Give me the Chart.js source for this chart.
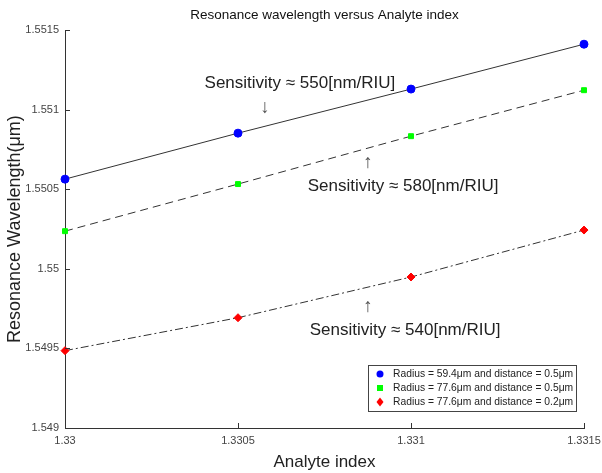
<!DOCTYPE html>
<html>
<head>
<meta charset="utf-8">
<script src="https://cdn.jsdelivr.net/npm/chart.js@4"></script>
<style>
  html, body { margin: 0; padding: 0; background: #fff; }
  #wrap { width: 602px; height: 473px; }
</style>
</head>
<body>
<div id="wrap"><canvas id="resChart" width="602" height="473"></canvas></div>
<script>
// analyte refractive index (x) and resonance wavelength in um (y)
const analyteIndex = [1.33, 1.3305, 1.331, 1.3315];
const wlR594d05 = [1.550564, 1.550853, 1.55113, 1.551412];
const wlR776d05 = [1.550237, 1.550533, 1.550834, 1.551123];
const wlR776d02 = [1.549486, 1.549693, 1.549949, 1.550244];

const seriesLabels = [
    "Radius = 59.4\u03bcm and distance = 0.5\u03bcm",
    "Radius = 77.6\u03bcm and distance = 0.5\u03bcm",
    "Radius = 77.6\u03bcm and distance = 0.2\u03bcm"
];

const xTicks = [1.33, 1.3305, 1.331, 1.3315];
const yTicks = [1.549, 1.5495, 1.55, 1.5505, 1.551, 1.5515];

// text notes on the plot (in data units)
const notes = [
    { text: "Sensitivity \u2248 550[nm/RIU]", x: 1.330679, y: 1.551167 },
    { text: "\u2193", x: 1.330578, y: 1.55101 },
    { text: "\u2191", x: 1.330876, y: 1.550665 },
    { text: "Sensitivity \u2248 580[nm/RIU]", x: 1.330977, y: 1.55052 },
    { text: "\u2191", x: 1.330876, y: 1.54976 },
    { text: "Sensitivity \u2248 540[nm/RIU]", x: 1.330983, y: 1.549616 }
];

const FONT = "'Liberation Sans', Arial, Helvetica, sans-serif";
const AXIS_COLOR = "#333333";

function pts(ys) {
    return analyteIndex.map((x, i) => ({ x: x, y: ys[i] }));
}

function fmt(v) {
    return String(parseFloat(Number(v).toFixed(5)));
}

// inward tick marks, like the matlab figure
const innerTicks = {
    id: 'innerTicks',
    afterDraw(chart) {
        const c = chart.ctx;
        const xs = chart.scales.x, ys = chart.scales.y;
        const a = chart.chartArea;
        c.save();
        c.strokeStyle = AXIS_COLOR;
        c.lineWidth = 1;
        c.beginPath();
        xTicks.forEach(v => {
            const px = Math.round(xs.getPixelForValue(v)) + 0.5;
            c.moveTo(px, a.bottom);
            c.lineTo(px, a.bottom - 5);
        });
        yTicks.forEach(v => {
            const py = Math.round(ys.getPixelForValue(v)) + 0.5;
            c.moveTo(a.left, py);
            c.lineTo(a.left + 5, py);
        });
        c.stroke();
        c.restore();
    }
};

// sensitivity notes
const notePlugin = {
    id: 'notePlugin',
    afterDatasetsDraw(chart) {
        const c = chart.ctx;
        const xs = chart.scales.x, ys = chart.scales.y;
        c.save();
        c.textAlign = 'center';
        c.textBaseline = 'middle';
        notes.forEach(n => {
            const arrow = n.text.length == 1;
            c.fillStyle = arrow ? '#555555' : '#222222';
            c.font = (arrow ? '19px ' : '17px ') + FONT;
            c.fillText(n.text, xs.getPixelForValue(n.x), ys.getPixelForValue(n.y));
        });
        c.restore();
    }
};

// legend box at lower right
const boxLegend = {
    id: 'boxLegend',
    afterDraw(chart) {
        const c = chart.ctx;
        const a = chart.chartArea;
        const w = 208, h = 46;
        const x0 = a.right - 8 - w, y0 = a.bottom - 63;
        c.save();
        c.fillStyle = '#ffffff';
        c.fillRect(x0, y0, w, h);
        c.strokeStyle = '#444444';
        c.lineWidth = 1;
        c.strokeRect(x0 + 0.5, y0 + 0.5, w, h);
        c.font = '10.3px ' + FONT;
        c.textBaseline = 'middle';
        c.textAlign = 'left';
        chart.data.datasets.forEach((ds, i) => {
            const yy = y0 + 9 + i * 14;
            const mx = x0 + 12;
            c.fillStyle = ds.pointBackgroundColor;
            c.beginPath();
            if (ds.pointStyle === 'circle') {
                c.arc(mx, yy, 3.5, 0, Math.PI * 2);
            } else if (ds.pointStyle === 'rect') {
                c.rect(mx - 3, yy - 3, 6, 6);
            } else {
                c.moveTo(mx, yy - 4.5); c.lineTo(mx + 3.5, yy);
                c.lineTo(mx, yy + 4.5); c.lineTo(mx - 3.5, yy);
                c.closePath();
            }
            c.fill();
            c.fillStyle = '#222222';
            c.fillText(ds.label, x0 + 25, yy);
        });
        c.restore();
    }
};

const data = {
    datasets: [{
        label: seriesLabels[0],
        data: pts(wlR594d05),
        borderColor: AXIS_COLOR,
        borderWidth: 1,
        clip: false,
        pointStyle: 'circle',
        pointRadius: 4,
        pointBackgroundColor: '#0000ff',
        pointBorderColor: '#0000ff'
    }, {
        label: seriesLabels[1],
        data: pts(wlR776d05),
        borderColor: AXIS_COLOR,
        borderWidth: 1,
        borderDash: [8, 5],
        clip: false,
        pointStyle: 'rect',
        pointRadius: 3.5,
        pointBackgroundColor: '#00ff00',
        pointBorderColor: '#00ff00'
    }, {
        label: seriesLabels[2],
        data: pts(wlR776d02),
        borderColor: AXIS_COLOR,
        borderWidth: 1,
        borderDash: [8, 3, 2, 3],
        clip: false,
        pointStyle: 'rectRot',
        pointRadius: 4,
        pointBackgroundColor: '#ff0000',
        pointBorderColor: '#ff0000'
    }]
};

const config = {
    type: 'line',
    data: data,
    options: {
        responsive: false,
        animation: false,
        layout: { padding: { left: 0, right: 18, top: 0, bottom: 0 } },
        plugins: {
            legend: { display: false },
            tooltip: { enabled: false },
            title: {
                display: true,
                fullSize: false,
                text: 'Resonance wavelength versus Analyte index',
                color: '#111111',
                font: { family: FONT, size: 13.5, weight: 'normal' },
                padding: { top: 7, bottom: 7 }
            }
        },
        scales: {
            x: {
                type: 'linear',
                min: 1.33,
                max: 1.3315,
                afterBuildTicks: s => { s.ticks = xTicks.map(v => ({ value: v })); },
                afterFit: s => { s.height = 45; s.paddingLeft = 0; s.paddingRight = 0; },
                grid: { display: false, drawTicks: false },
                border: { display: true, color: AXIS_COLOR, width: 1 },
                ticks: {
                    color: '#444444',
                    padding: 6,
                    maxRotation: 0,
                    font: { family: FONT, size: 11 },
                    callback: v => fmt(v)
                },
                title: {
                    display: true,
                    text: 'Analyte index',
                    color: '#222222',
                    font: { family: FONT, size: 17 },
                    padding: { top: 0, bottom: 0 }
                }
            },
            y: {
                min: 1.549,
                max: 1.5515,
                afterBuildTicks: s => { s.ticks = yTicks.map(v => ({ value: v })); },
                afterFit: s => { s.width = 65; },
                grid: { display: false, drawTicks: false },
                border: { display: true, color: AXIS_COLOR, width: 1 },
                ticks: {
                    color: '#444444',
                    padding: 6,
                    font: { family: FONT, size: 11 },
                    callback: v => fmt(v)
                },
                title: {
                    display: true,
                    text: 'Resonance Wavelength(\u03bcm)',
                    color: '#222222',
                    font: { family: FONT, size: 18 },
                    padding: { top: 4, bottom: 0 }
                }
            }
        }
    },
    plugins: [innerTicks, notePlugin, boxLegend]
};

const ctx = document.getElementById('resChart').getContext('2d');
const resChart = new Chart(ctx, config);
</script>
</body>
</html>
